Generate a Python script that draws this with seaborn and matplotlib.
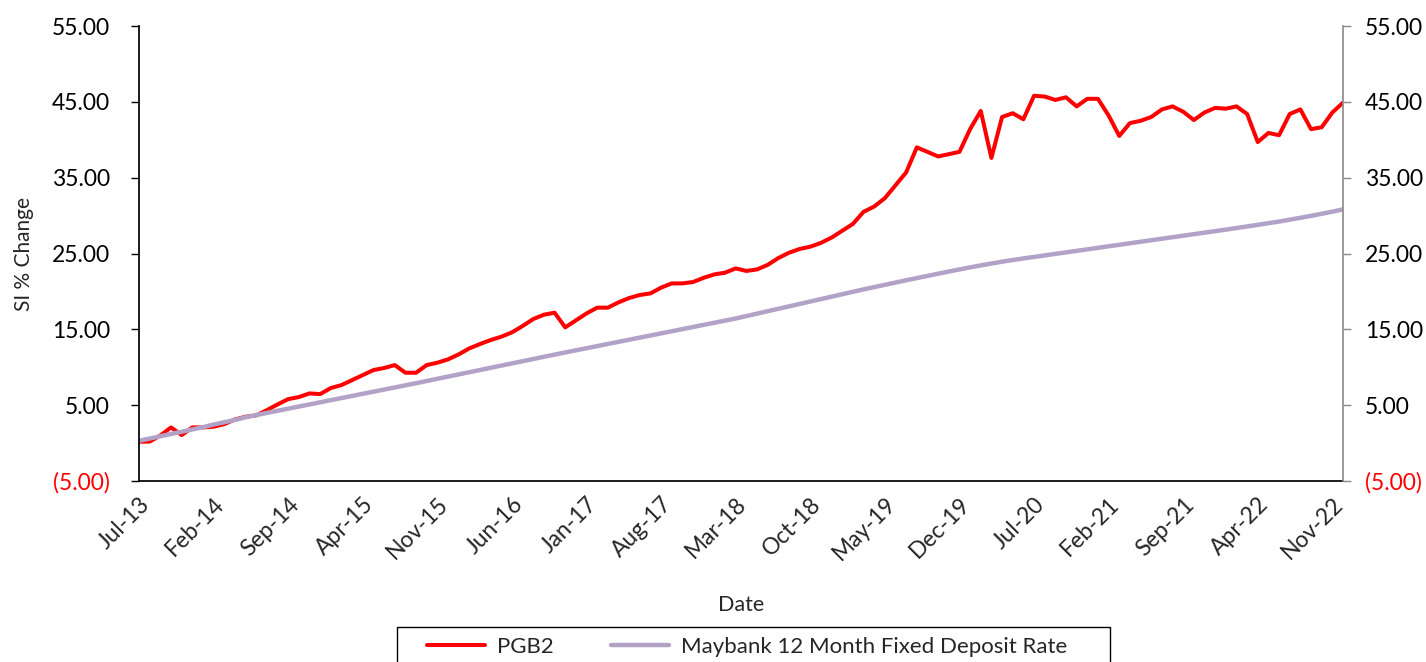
import pandas as pd
import seaborn as sns
import matplotlib.pyplot as plt
from matplotlib.patches import Rectangle

# monthly points, Jul-13 .. Dec-22
months = pd.date_range("2013-07-01", periods=114, freq="MS").strftime("%b-%y").tolist()

pgb2 = [
    0.18, 0.20, 1.00, 2.07, 1.06, 2.07, 2.07, 2.16, 2.50, 3.12,
    3.47, 3.65, 4.35, 5.10, 5.80, 6.07, 6.55, 6.46, 7.26, 7.65,
    8.31, 8.97, 9.63, 9.90, 10.29, 9.28, 9.28, 10.29, 10.60, 11.04,
    11.70, 12.49, 13.06, 13.59, 14.03, 14.60, 15.44, 16.36, 16.93, 17.20,
    15.26, 16.18, 17.10, 17.86, 17.86, 18.56, 19.13, 19.53, 19.74, 20.50,
    21.06, 21.06, 21.24, 21.80, 22.25, 22.47, 23.04, 22.70, 22.90, 23.50,
    24.40, 25.10, 25.60, 25.90, 26.40, 27.10, 28.00, 28.90, 30.50, 31.20,
    32.30, 34.00, 35.70, 39.00, 38.40, 37.80, 38.10, 38.40, 41.40, 43.80,
    37.60, 43.00, 43.50, 42.70, 45.80, 45.70, 45.25, 45.60, 44.40, 45.40,
    45.40, 43.20, 40.50, 42.20, 42.50, 43.00, 44.00, 44.40, 43.70, 42.60,
    43.60, 44.20, 44.10, 44.40, 43.40, 39.70, 40.90, 40.60, 43.40, 44.00,
    41.40, 41.65, 43.60, 44.90,
]

maybank = [
    0.30, 0.60, 0.90, 1.20, 1.50, 1.80, 2.10, 2.45, 2.75, 3.05,
    3.40, 3.70, 3.98, 4.26, 4.54, 4.82, 5.10, 5.38, 5.66, 5.94,
    6.22, 6.50, 6.78, 7.06, 7.34, 7.62, 7.90, 8.19, 8.48, 8.77,
    9.06, 9.35, 9.64, 9.93, 10.22, 10.51, 10.80, 11.09, 11.38, 11.67,
    11.95, 12.23, 12.51, 12.79, 13.07, 13.35, 13.63, 13.91, 14.19, 14.47,
    14.75, 15.03, 15.31, 15.59, 15.87, 16.15, 16.43, 16.75, 17.07, 17.39,
    17.71, 18.03, 18.35, 18.67, 18.99, 19.31, 19.63, 19.95, 20.27, 20.57,
    20.87, 21.17, 21.47, 21.76, 22.05, 22.34, 22.62, 22.90, 23.17, 23.43,
    23.68, 23.92, 24.14, 24.35, 24.55, 24.75, 24.95, 25.15, 25.35, 25.55,
    25.75, 25.95, 26.15, 26.35, 26.55, 26.75, 26.95, 27.15, 27.35, 27.55,
    27.75, 27.95, 28.15, 28.36, 28.57, 28.78, 29.00, 29.22, 29.46, 29.71,
    29.97, 30.24, 30.52, 30.82,
]

y_ticks = [-5, 5, 15, 25, 35, 45, 55]


def fmt(v):
    return f"({abs(v):.2f})" if v < 0 else f"{v:.2f}"


sns.set_theme(style="white")
plt.rcParams['font.family'] = ['Lato', 'DejaVu Sans']

df = pd.DataFrame({"idx": range(len(months)), "PGB2": pgb2,
                   "Maybank 12 Month Fixed Deposit Rate": maybank})

fig = plt.figure(figsize=(14.26, 6.62), dpi=100)
ax = fig.add_axes([0.0975, 0.2734, 0.8443, 0.6873])

sns.lineplot(data=df, x="idx", y="PGB2", color="#FF0000", linewidth=2.9,
             label="PGB2", ax=ax)
sns.lineplot(data=df, x="idx", y="Maybank 12 Month Fixed Deposit Rate",
             color="#B3A2C7", linewidth=3.2,
             label="Maybank 12 Month Fixed Deposit Rate", ax=ax)

fs = 16.5
ax.set_xlim(0, len(months) - 1)
ax.set_ylim(-5, 55)
ax.set_yticks(y_ticks)
ax.set_yticklabels([fmt(v) for v in y_ticks], fontsize=fs)
for lbl, v in zip(ax.get_yticklabels(), y_ticks):
    lbl.set_color("#FF0000" if v < 0 else "black")

xt = list(range(0, len(months), 7))
ax.set_xticks(xt)
ax.set_xticklabels([months[i] for i in xt], rotation=45, ha="right",
                   rotation_mode="anchor", fontsize=fs)
ax.tick_params(axis="x", length=0, pad=9)
ax.tick_params(axis="y", left=True, length=6, width=1, color="black", pad=15)

ax.set_xlabel("Date", fontsize=15.5, labelpad=22)
ax.set_ylabel("SI % Change", fontsize=15, labelpad=13)

ax.spines["top"].set_visible(False)
ax.spines["left"].set_color("black")
ax.spines["bottom"].set_color("black")
ax.spines["right"].set_visible(False)

ax2 = ax.twinx()
ax2.set_ylim(-5, 55)
ax2.set_yticks(y_ticks)
ax2.set_yticklabels([fmt(v) for v in y_ticks], fontsize=fs)
for lbl, v in zip(ax2.get_yticklabels(), y_ticks):
    lbl.set_color("#FF0000" if v < 0 else "black")
ax2.tick_params(axis="y", right=True, length=6, width=1, color="#898989", pad=10)
for side in ["top", "left", "bottom"]:
    ax2.spines[side].set_visible(False)
ax2.spines["right"].set_color("#898989")
ax2.spines["right"].set_linewidth(1.2)
ax2.grid(False)

handles, labels = ax.get_legend_handles_labels()
ax.get_legend().remove()
fig.legend(handles, labels, loc="center", bbox_to_anchor=(0.524, 0.0227),
           ncol=2, frameon=False, fontsize=16, handlelength=2.6,
           handletextpad=0.55, columnspacing=2.6)
fig.patches.append(Rectangle((0.2784, -0.02), 0.5, 0.0729, transform=fig.transFigure,
                             fill=False, edgecolor="black", linewidth=1))

fig.savefig("out.png", dpi=100)
